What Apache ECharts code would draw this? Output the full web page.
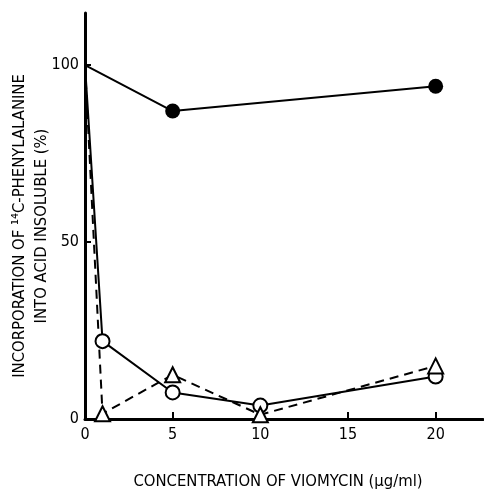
<!DOCTYPE html>
<html><head><meta charset="utf-8">
<script src="https://cdn.jsdelivr.net/npm/echarts@6/dist/echarts.min.js"></script>
<style>html,body{margin:0;padding:0;background:#fff}#c{width:484px;height:491px}</style>
</head><body><div id="c"></div>
<script>
var concFilled = [0, 5, 20];
var valFilled = [100, 87, 94];
var concOpen = [0, 1, 5, 10, 20];
var valOpen = [100, 22, 7.5, 3.8, 12];
var concTri = [0, 1, 5, 10, 20];
var valTri = [100, 1.5, 12.5, 1.2, 15];
var xTicks = [0, 5, 10, 15, 20];
var yTicks = [0, 50, 100];

var FONT = '"Liberation Sans Narrow", "DejaVu Sans Condensed", sans-serif';
function pts(xs, ys) {
  return xs.map(function (x, i) {
    var p = { value: [x, ys[i]] };
    if (i === 0) p.symbol = 'none';
    return p;
  });
}
var chart = echarts.init(document.getElementById('c'));
chart.setOption({
  animation: false,
  grid: { left: 85, right: 1, top: 13, bottom: 72, outerBoundsMode: 'none', containLabel: false },
  xAxis: {
    type: 'value', min: 0, max: 22.7, interval: 5,
    axisLine: { lineStyle: { color: '#000', width: 3 } },
    axisTick: { inside: true, length: 7, lineStyle: { color: '#000', width: 2 } },
    splitLine: { show: false },
    axisLabel: { color: '#000', fontFamily: FONT, fontSize: 16, margin: 8, showMaxLabel: false,
      formatter: function (v) { return xTicks.indexOf(v) >= 0 ? String(v) : ''; } },
    name: 'CONCENTRATION OF VIOMYCIN (\u00b5g/ml)', nameLocation: 'middle', nameGap: 54,
    nameMoveOverlap: false,
    nameTextStyle: { color: '#000', fontFamily: FONT, fontSize: 16.5, padding: [0, 12, 0, 0] }
  },
  yAxis: {
    type: 'value', min: 0, max: 114.7, interval: 50,
    axisLine: { show: true, lineStyle: { color: '#000', width: 3 } },
    axisTick: { show: true, inside: true, length: 6, lineStyle: { color: '#000', width: 2 } },
    splitLine: { show: false },
    axisLabel: { color: '#000', fontFamily: FONT, fontSize: 16, margin: 6, showMaxLabel: false,
      formatter: function (v) { return yTicks.indexOf(v) >= 0 ? String(v) : ''; } },
    name: 'INCORPORATION OF \u00b9\u2074C-PHENYLALANINE\nINTO ACID INSOLUBLE (%)',
    nameLocation: 'middle', nameGap: 32, nameRotate: 90, nameMoveOverlap: false,
    nameTextStyle: { color: '#000', fontFamily: FONT, fontSize: 16.5, lineHeight: 22, padding: [0, 20, 0, 0] }
  },
  series: [
    { type: 'line', data: pts(concFilled, valFilled), symbol: 'circle', symbolSize: 15,
      lineStyle: { color: '#000', width: 2 }, itemStyle: { color: '#000' } },
    { type: 'line', data: pts(concOpen, valOpen), symbol: 'circle', symbolSize: 14,
      lineStyle: { color: '#000', width: 2 },
      itemStyle: { color: '#fff', borderColor: '#000', borderWidth: 2 } },
    { type: 'line', data: pts(concTri, valTri), symbol: 'triangle', symbolSize: 15,
      lineStyle: { color: '#000', width: 2, type: [9, 6] },
      itemStyle: { color: '#fff', borderColor: '#000', borderWidth: 2 } }
  ]
});
</script></body></html>
